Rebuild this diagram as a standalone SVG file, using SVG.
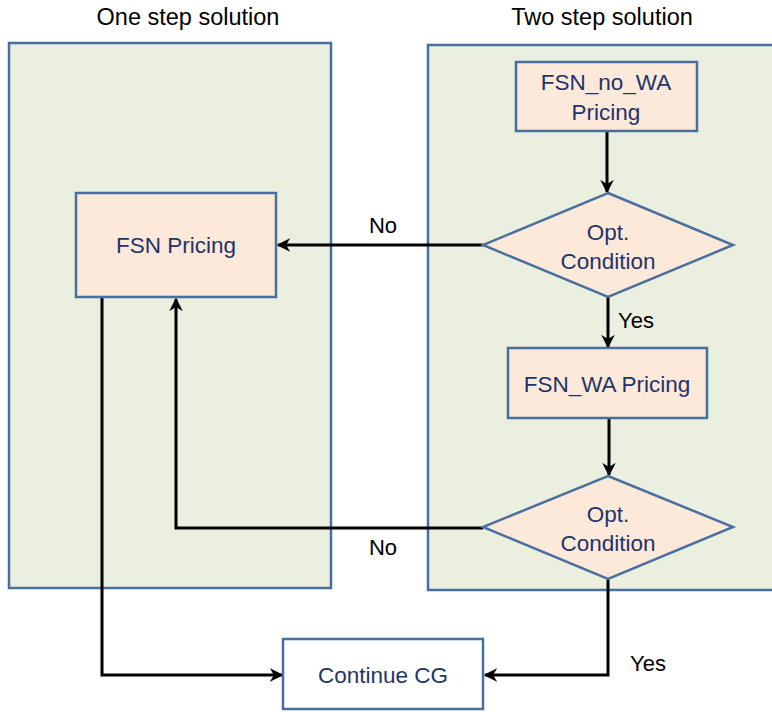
<svg xmlns="http://www.w3.org/2000/svg" width="772" height="712" viewBox="0 0 772 712">
  <style>
    .panel { fill: #ebefdf; stroke: #4a6f9e; stroke-width: 2.5; }
    .node { fill: #fde9da; stroke: #4a6f9e; stroke-width: 2.5; }
    .plain { fill: #ffffff; stroke: #4a6f9e; stroke-width: 2.5; }
    .title { font-family: "Liberation Sans", Arial, sans-serif; font-size: 23.5px; fill: #000000; text-anchor: middle; }
    .label { font-family: "Liberation Sans", Arial, sans-serif; font-size: 22.5px; fill: #1f3468; text-anchor: middle; }
    .edge { fill: none; stroke: #000000; stroke-width: 3; }
    .tag { font-family: "Liberation Sans", Arial, sans-serif; font-size: 22px; fill: #000000; text-anchor: middle; }
  </style>
  <defs>
    <marker id="arrow" viewBox="0 0 10 10" refX="9" refY="5" markerWidth="4.5" markerHeight="4.5" orient="auto" markerUnits="strokeWidth">
      <path d="M0,0 L10,5 L0,10 L3,5 Z" fill="#000000"/>
    </marker>
  </defs>

  <!-- swimlane panels -->
  <g id="one-step">
    <rect class="panel" x="9" y="43" width="322" height="545"/>
    <text class="title" x="188" y="25">One step solution</text>
  </g>
  <g id="two-step">
    <rect class="panel" x="428" y="45" width="350" height="545"/>
    <text class="title" x="602" y="25">Two step solution</text>
  </g>

  <!-- connectors -->
  <g id="connectors">
    <path class="edge" d="M607,131 L607,192" marker-end="url(#arrow)"/>
    <path class="edge" d="M483,245 L278,245" marker-end="url(#arrow)"/>
    <path class="edge" d="M608,297 L608,347" marker-end="url(#arrow)"/>
    <path class="edge" d="M609,418 L609,475" marker-end="url(#arrow)"/>
    <path class="edge" d="M483,528 L176,528 L176,299" marker-end="url(#arrow)"/>
    <path class="edge" d="M102,297 L102,675 L282,675" marker-end="url(#arrow)"/>
    <path class="edge" d="M608,579 L608,675 L485,675" marker-end="url(#arrow)"/>
    <text class="tag" x="383" y="233">No</text>
    <text class="tag" x="636" y="328">Yes</text>
    <text class="tag" x="383" y="555">No</text>
    <text class="tag" x="648" y="671">Yes</text>
  </g>

  <!-- nodes -->
  <g id="fsn-no-wa">
    <rect class="node" x="516" y="62" width="181" height="69"/>
    <text class="label" x="606" y="90">FSN_no_WA</text>
    <text class="label" x="606" y="120">Pricing</text>
  </g>
  <g id="opt-1">
    <polygon class="node" points="608,193 733,245 608,297 483,245"/>
    <text class="label" x="608" y="240">Opt.</text>
    <text class="label" x="608" y="269">Condition</text>
  </g>
  <g id="fsn-wa">
    <rect class="node" x="508" y="348" width="199" height="70"/>
    <text class="label" x="607" y="392">FSN_WA Pricing</text>
  </g>
  <g id="opt-2">
    <polygon class="node" points="608,476 733,527 608,579 483,527"/>
    <text class="label" x="608" y="522">Opt.</text>
    <text class="label" x="608" y="551">Condition</text>
  </g>
  <g id="fsn">
    <rect class="node" x="76" y="193" width="200" height="104"/>
    <text class="label" x="176" y="253">FSN Pricing</text>
  </g>
  <g id="continue-cg">
    <rect class="plain" x="283" y="639" width="200" height="70"/>
    <text class="label" x="383" y="683">Continue CG</text>
  </g>
</svg>
